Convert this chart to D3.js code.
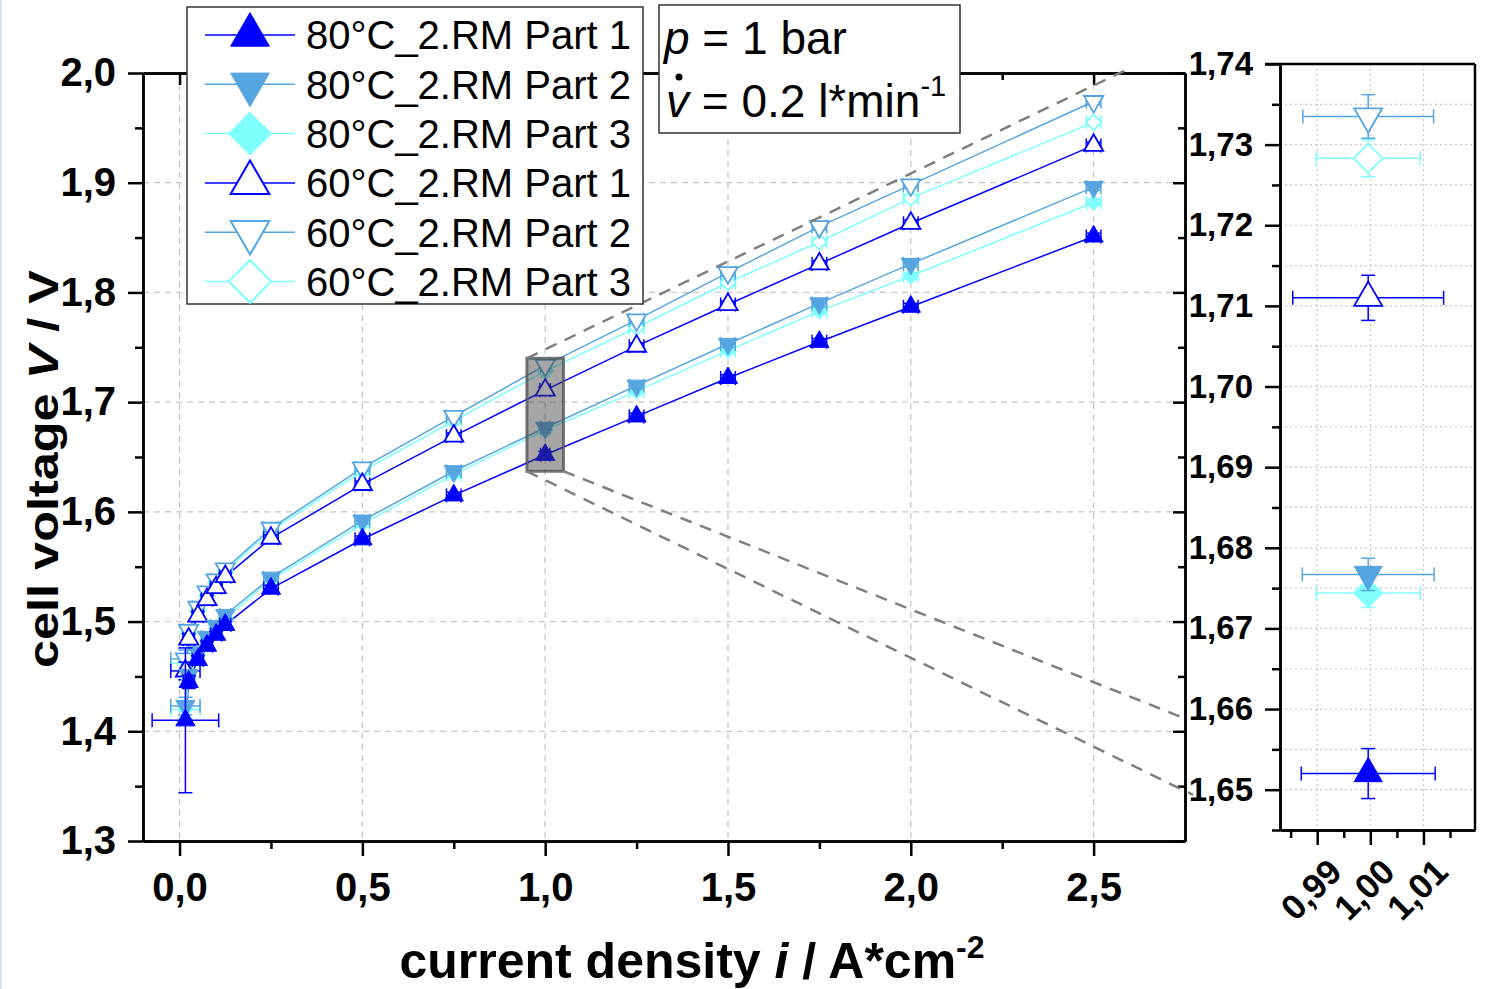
<!DOCTYPE html>
<html>
<head>
<meta charset="utf-8">
<script src="https://cdn.jsdelivr.net/npm/d3@7"></script>
<style>
body { margin: 0; background: #fff; }
svg text { font-family: "Liberation Sans", Arial, sans-serif; }
</style>
</head>
<body>
<svg id="chart" width="1489" height="989"></svg>
<script>
// current density in A*cm-2
const currentDensity = [0.016, 0.025, 0.05, 0.075, 0.1, 0.125, 0.25, 0.5, 0.75, 1.0, 1.25, 1.5, 1.75, 2.0, 2.5];

// cell voltage in V
const v80p1 = [1.410, 1.445, 1.465, 1.478, 1.488, 1.497, 1.530, 1.575, 1.615, 1.652, 1.687, 1.722, 1.755, 1.787, 1.851];
const v80p2 = [1.423, 1.451, 1.472, 1.486, 1.496, 1.506, 1.540, 1.592, 1.637, 1.6767, 1.715, 1.753, 1.790, 1.826, 1.896];
const v80p3 = [1.420, 1.448, 1.470, 1.483, 1.494, 1.503, 1.538, 1.589, 1.634, 1.6744, 1.710, 1.747, 1.783, 1.815, 1.882];
const v60p1 = [1.455, 1.484, 1.505, 1.520, 1.531, 1.541, 1.576, 1.625, 1.669, 1.711, 1.751, 1.789, 1.826, 1.863, 1.934];
const v60p2 = [1.466, 1.492, 1.513, 1.527, 1.538, 1.548, 1.585, 1.640, 1.687, 1.7335, 1.775, 1.818, 1.860, 1.898, 1.974];
const v60p3 = [1.462, 1.490, 1.510, 1.524, 1.536, 1.546, 1.583, 1.637, 1.683, 1.7283, 1.768, 1.809, 1.846, 1.886, 1.955];

// error bars (voltage)
const yErr80p1 = [0.066, 0.006, 0.004, 0.004, 0.003, 0.003, 0.003, 0.003, 0.003, 0.0031, 0.003, 0.003, 0.003, 0.003, 0.003];
const yErr80p2 = [0.008, 0.005, 0.004, 0.004, 0.003, 0.003, 0.003, 0.003, 0.003, 0.0020, 0.003, 0.003, 0.003, 0.003, 0.003];
const yErr80p3 = [0.008, 0.005, 0.004, 0.004, 0.003, 0.003, 0.003, 0.003, 0.003, 0.0018, 0.003, 0.003, 0.003, 0.003, 0.003];
const yErr60p1 = [0.008, 0.005, 0.004, 0.004, 0.003, 0.003, 0.003, 0.003, 0.003, 0.0028, 0.003, 0.003, 0.003, 0.003, 0.003];
const yErr60p2 = [0.008, 0.005, 0.004, 0.004, 0.003, 0.003, 0.003, 0.003, 0.003, 0.0027, 0.003, 0.003, 0.003, 0.003, 0.003];
const yErr60p3 = [0.008, 0.005, 0.004, 0.004, 0.003, 0.003, 0.003, 0.003, 0.003, 0.0023, 0.003, 0.003, 0.003, 0.003, 0.003];

// error bars (current density)
const xErr80p1 = [0.091, 0.015, 0.015, 0.015, 0.015, 0.015, 0.02, 0.02, 0.02, 0.0126, 0.02, 0.02, 0.02, 0.02, 0.02];
const xErr80p2 = [0.040, 0.015, 0.015, 0.015, 0.015, 0.015, 0.02, 0.02, 0.02, 0.0124, 0.02, 0.02, 0.02, 0.02, 0.02];
const xErr80p3 = [0.040, 0.015, 0.015, 0.015, 0.015, 0.015, 0.02, 0.02, 0.02, 0.0098, 0.02, 0.02, 0.02, 0.02, 0.02];
const xErr60p1 = [0.040, 0.015, 0.015, 0.015, 0.015, 0.015, 0.02, 0.02, 0.02, 0.0142, 0.02, 0.02, 0.02, 0.02, 0.02];
const xErr60p2 = [0.040, 0.015, 0.015, 0.015, 0.015, 0.015, 0.02, 0.02, 0.02, 0.0123, 0.02, 0.02, 0.02, 0.02, 0.02];
const xErr60p3 = [0.040, 0.015, 0.015, 0.015, 0.015, 0.015, 0.02, 0.02, 0.02, 0.0098, 0.02, 0.02, 0.02, 0.02, 0.02];

const seriesNames = ['80°C_2.RM Part 1', '80°C_2.RM Part 2', '80°C_2.RM Part 3', '60°C_2.RM Part 1', '60°C_2.RM Part 2', '60°C_2.RM Part 3'];
const seriesColors = ['#0000ff', '#56a5e0', '#80ffff', '#0000ff', '#56a5e0', '#80ffff'];
const seriesShapes = ['up', 'down', 'diamond', 'up', 'down', 'diamond'];
const seriesFilled = [true, true, true, false, false, false];

// inset (zoom at 1 A*cm-2)
const insetX = [0.9996, 0.9996, 0.9996, 0.9996, 0.9996, 0.9996];
const insetV = [1.6520, 1.6767, 1.6744, 1.7110, 1.7335, 1.7283];
const insetYErr = [0.0031, 0.0020, 0.0018, 0.0028, 0.0027, 0.0023];
const insetXErr = [0.0126, 0.0124, 0.0098, 0.0142, 0.0123, 0.0098];

// zoom box and connector lines (data coords of the main plot)
const zoomBox = [0.95, 1.05, 1.637, 1.74];
const connectors = [
    [0.95, 1.74, 2.59, 2.003],
    [0.95, 1.637, 2.772, 1.342],
    [1.05, 1.637, 2.74, 1.413]
];

const yTicks = [1.3, 1.4, 1.5, 1.6, 1.7, 1.8, 1.9, 2.0];
const yMinor = [1.35, 1.45, 1.55, 1.65, 1.75, 1.85, 1.95];
const xTicks = [0, 0.5, 1.0, 1.5, 2.0, 2.5];
const xMinor = [0.25, 0.75, 1.25, 1.75, 2.25];
const insetYTicks = [1.65, 1.66, 1.67, 1.68, 1.69, 1.70, 1.71, 1.72, 1.73, 1.74];
const insetYMinor = [1.645, 1.655, 1.665, 1.675, 1.685, 1.695, 1.705, 1.715, 1.725, 1.735];
const insetXTicks = [0.99, 1.00, 1.01];
const insetXMinor = [0.985, 0.995, 1.005, 1.015];

const series = [
    { v: v80p1, ye: yErr80p1, xe: xErr80p1 },
    { v: v80p2, ye: yErr80p2, xe: xErr80p2 },
    { v: v80p3, ye: yErr80p3, xe: xErr80p3 },
    { v: v60p1, ye: yErr60p1, xe: xErr60p1 },
    { v: v60p2, ye: yErr60p2, xe: xErr60p2 },
    { v: v60p3, ye: yErr60p3, xe: xErr60p3 }
].map((s, i) => ({
    name: seriesNames[i], color: seriesColors[i], shape: seriesShapes[i], filled: seriesFilled[i],
    points: currentDensity.map((c, j) => ({ x: c, y: s.v[j], xe: s.xe[j], ye: s.ye[j] }))
}));

const deFormat = d3.formatLocale({ decimal: ",", thousands: ".", grouping: [3], currency: ["", ""] });

const svg = d3.select('#chart');
svg.append('rect').attr('x', 0).attr('y', 0).attr('width', 2).attr('height', 989).attr('fill', '#cfe3f5');

const x = d3.scaleLinear().domain([-0.1, 2.75]).range([143, 1185]);
const y = d3.scaleLinear().domain([1.3, 2.0]).range([841, 73]);
const xi = d3.scaleLinear().domain([0.983, 1.0197]).range([1280, 1475]);
const yi = d3.scaleLinear().domain([1.645, 1.74]).range([830, 64]);

const symbolPath = (shape, size) => {
    if (shape === 'diamond') return d3.symbol(d3.symbolSquare, size)();
    return d3.symbol(d3.symbolTriangle, size)();
};
const symbolRotate = shape => shape === 'down' ? 180 : (shape === 'diamond' ? 45 : 0);

// grid main
const grid = svg.append('g');
grid.selectAll('.vg').data(xTicks).enter().append('line')
    .attr('x1', d => x(d)).attr('x2', d => x(d)).attr('y1', y(2.0)).attr('y2', y(1.3))
    .attr('stroke', '#c8c8c8').attr('stroke-width', 1.3).attr('stroke-dasharray', '6,5');
grid.selectAll('.hg').data(yTicks.slice(1, -1)).enter().append('line')
    .attr('y1', d => y(d)).attr('y2', d => y(d)).attr('x1', x(-0.1)).attr('x2', x(2.75))
    .attr('stroke', '#c8c8c8').attr('stroke-width', 1.3).attr('stroke-dasharray', '6,5');

// grid inset
const igrid = svg.append('g');
igrid.selectAll('.vg').data(insetXTicks).enter().append('line')
    .attr('x1', d => xi(d)).attr('x2', d => xi(d)).attr('y1', yi(1.74)).attr('y2', yi(1.645))
    .attr('stroke', '#c8c8c8').attr('stroke-width', 1.2).attr('stroke-dasharray', '2,3');
igrid.selectAll('.hg').data(insetYTicks.concat(insetYMinor).filter(d => d > 1.646 && d < 1.739)).enter().append('line')
    .attr('y1', d => yi(d)).attr('y2', d => yi(d)).attr('x1', xi(0.983)).attr('x2', xi(1.0197))
    .attr('stroke', '#c8c8c8').attr('stroke-width', 1.2).attr('stroke-dasharray', '2,3');

// series lines
const line = d3.line().x(d => x(d.x)).y(d => y(d.y));
const plot = svg.append('g');
series.forEach(s => {
    plot.append('path').datum(s.points).attr('d', line)
        .attr('fill', 'none').attr('stroke', s.color).attr('stroke-width', 1.5);
});

const drawErrors = (g, pts, sx, sy, color, cap) => {
    const e = g.append('g').attr('stroke', color).attr('stroke-width', 1.5).attr('fill', 'none');
    pts.forEach(p => {
        const cx = sx(p.x), cy = sy(p.y);
        const x0 = sx(p.x - p.xe), x1 = sx(p.x + p.xe);
        const y0 = sy(p.y - p.ye), y1 = sy(p.y + p.ye);
        e.append('line').attr('x1', x0).attr('x2', x1).attr('y1', cy).attr('y2', cy);
        e.append('line').attr('x1', x0).attr('x2', x0).attr('y1', cy - cap).attr('y2', cy + cap);
        e.append('line').attr('x1', x1).attr('x2', x1).attr('y1', cy - cap).attr('y2', cy + cap);
        e.append('line').attr('x1', cx).attr('x2', cx).attr('y1', y0).attr('y2', y1);
        e.append('line').attr('x1', cx - cap).attr('x2', cx + cap).attr('y1', y0).attr('y2', y0);
        e.append('line').attr('x1', cx - cap).attr('x2', cx + cap).attr('y1', y1).attr('y2', y1);
    });
};

const drawMarkers = (g, pts, sx, sy, s, triSize, diaSize) => {
    const size = s.shape === 'diamond' ? diaSize : triSize;
    g.selectAll(null).data(pts).enter().append('path')
        .attr('d', symbolPath(s.shape, size))
        .attr('transform', d => `translate(${sx(d.x)},${sy(d.y)}) rotate(${symbolRotate(s.shape)})`)
        .attr('fill', s.filled ? s.color : '#fff')
        .attr('stroke', s.color).attr('stroke-width', s.filled ? 1 : 1.8);
};

series.slice().reverse().forEach(s => {
    drawErrors(plot, s.points, x, y, s.color, 7);
    drawMarkers(plot, s.points, x, y, s, 160, 120);
});

// main axes
const axisStyle = g => {
    g.selectAll('path,line').attr('stroke', '#000').attr('stroke-width', 2.5);
    g.selectAll('text').attr('font-size', 40).attr('font-weight', 'bold').attr('fill', '#000');
};
svg.append('g').attr('transform', 'translate(143,0)')
    .call(d3.axisLeft(y).tickValues(yMinor).tickSize(8).tickSizeOuter(0).tickFormat(''))
    .call(axisStyle);
svg.append('g').attr('transform', 'translate(143,0)')
    .call(d3.axisLeft(y).tickValues(yTicks).tickSize(15).tickSizeOuter(0).tickPadding(12).tickFormat(deFormat.format('.1f')))
    .call(axisStyle);
svg.append('g').attr('transform', 'translate(0,841)')
    .call(d3.axisBottom(x).tickValues(xMinor).tickSize(8).tickSizeOuter(0).tickFormat(''))
    .call(axisStyle);
svg.append('g').attr('transform', 'translate(0,841)')
    .call(d3.axisBottom(x).tickValues(xTicks).tickSize(15).tickSizeOuter(0).tickPadding(17).tickFormat(deFormat.format('.1f')))
    .call(axisStyle);
svg.append('g').attr('transform', 'translate(0,73)')
    .call(d3.axisTop(x).tickValues(xTicks).tickSize(-12).tickSizeOuter(0).tickFormat(''))
    .call(axisStyle);
svg.append('g').attr('transform', 'translate(0,73)')
    .call(d3.axisTop(x).tickValues(xMinor).tickSize(-7).tickSizeOuter(0).tickFormat(''))
    .call(axisStyle);
svg.append('g').attr('transform', 'translate(1185,0)')
    .call(d3.axisRight(y).tickValues(yTicks).tickSize(-12).tickSizeOuter(0).tickFormat(''))
    .call(axisStyle);
svg.append('g').attr('transform', 'translate(1185,0)')
    .call(d3.axisRight(y).tickValues(yMinor).tickSize(-7).tickSizeOuter(0).tickFormat(''))
    .call(axisStyle);

// zoom box
svg.append('rect')
    .attr('x', x(zoomBox[0])).attr('y', y(zoomBox[3]))
    .attr('width', x(zoomBox[1]) - x(zoomBox[0])).attr('height', y(zoomBox[2]) - y(zoomBox[3]))
    .attr('fill', '#3a3a3a').attr('fill-opacity', 0.45)
    .attr('stroke', '#555').attr('stroke-opacity', 0.8).attr('stroke-width', 3);

svg.append('g').selectAll('line').data(connectors).enter().append('line')
    .attr('x1', d => x(d[0])).attr('y1', d => y(d[1])).attr('x2', d => x(d[2])).attr('y2', d => y(d[3]))
    .attr('stroke', '#808080').attr('stroke-width', 2.5).attr('stroke-dasharray', '12,9');

// inset
const inset = svg.append('g');
series.slice().reverse().forEach((s, r) => {
    const i = series.length - 1 - r;
    const pts = [{ x: insetX[i], y: insetV[i], xe: insetXErr[i], ye: insetYErr[i] }];
    drawErrors(inset, pts, xi, yi, s.color, 7);
    drawMarkers(inset, pts, xi, yi, s, 340, 420);
});

svg.append('line').attr('x1', 1265).attr('x2', 1475).attr('y1', 64).attr('y2', 64).attr('stroke', '#000').attr('stroke-width', 2.5);
svg.append('line').attr('x1', 1475).attr('x2', 1475).attr('y1', 64).attr('y2', 830).attr('stroke', '#000').attr('stroke-width', 2.5);
svg.append('g').attr('transform', 'translate(1280,0)')
    .call(d3.axisLeft(yi).tickValues(insetYMinor).tickSize(8).tickSizeOuter(0).tickFormat(''))
    .call(axisStyle);
svg.append('g').attr('transform', 'translate(1280,0)')
    .call(d3.axisLeft(yi).tickValues(insetYTicks).tickSize(15).tickSizeOuter(0).tickPadding(12).tickFormat(deFormat.format('.2f')))
    .call(axisStyle)
    .call(g => g.selectAll('text').attr('font-size', 33));
svg.append('g').attr('transform', 'translate(0,830)')
    .call(d3.axisBottom(xi).tickValues(insetXMinor).tickSize(8).tickSizeOuter(0).tickFormat(''))
    .call(axisStyle);
const ixAxis = svg.append('g').attr('transform', 'translate(0,830)')
    .call(d3.axisBottom(xi).tickValues(insetXTicks).tickSize(15).tickSizeOuter(0).tickFormat(deFormat.format('.2f')))
    .call(axisStyle);
ixAxis.selectAll('text').attr('font-size', 35)
    .attr('text-anchor', 'end').attr('dy', null).attr('y', null)
    .attr('transform', 'translate(26,44) rotate(-45)');

// axis titles
svg.append('text')
    .attr('transform', 'translate(58,469) rotate(-90)')
    .attr('text-anchor', 'middle').attr('font-size', 42).attr('font-weight', 'bold')
    .attr('textLength', 398).attr('lengthAdjust', 'spacingAndGlyphs')
    .call(t => {
        t.append('tspan').text('cell voltage ');
        t.append('tspan').attr('font-style', 'italic').text('V');
        t.append('tspan').text(' / V');
    });
svg.append('text')
    .attr('x', 692).attr('y', 978)
    .attr('text-anchor', 'middle').attr('font-size', 50).attr('font-weight', 'bold')
    .call(t => {
        t.append('tspan').text('current density ');
        t.append('tspan').attr('font-style', 'italic').text('i');
        t.append('tspan').text(' / A*cm');
        t.append('tspan').attr('font-size', 32).attr('dy', -20).text('-2');
    });

// legend
const legend = svg.append('g');
legend.append('rect').attr('x', 187).attr('y', 7).attr('width', 456).attr('height', 297)
    .attr('fill', '#fff').attr('stroke', '#333').attr('stroke-width', 1.5);
series.forEach((s, i) => {
    const ly = 35 + i * 49.3;
    const row = legend.append('g');
    row.append('line').attr('x1', 205).attr('x2', 295).attr('y1', ly).attr('y2', ly)
        .attr('stroke', s.color).attr('stroke-width', 1.5);
    row.append('path').attr('d', symbolPath(s.shape, s.shape === 'diamond' ? 900 : 650))
        .attr('transform', `translate(250,${ly}) rotate(${symbolRotate(s.shape)})`)
        .attr('fill', s.filled ? s.color : '#fff').attr('stroke', s.color).attr('stroke-width', s.filled ? 1 : 2);
    row.append('text').attr('x', 306).attr('y', ly).attr('dy', '0.36em')
        .attr('font-size', 40).text(s.name);
});

// condition box
const cond = svg.append('g');
cond.append('rect').attr('x', 659).attr('y', 5).attr('width', 301).attr('height', 128)
    .attr('fill', '#fff').attr('stroke', '#333').attr('stroke-width', 1.5);
cond.append('text').attr('x', 664).attr('y', 54).attr('font-size', 46)
    .call(t => {
        t.append('tspan').attr('font-style', 'italic').text('p');
        t.append('tspan').text(' = 1 bar');
    });
cond.append('text').attr('x', 666).attr('y', 117).attr('font-size', 46)
    .call(t => {
        t.append('tspan').attr('font-style', 'italic').text('v');
        t.append('tspan').text(' = 0.2 l*min');
        t.append('tspan').attr('font-size', 29).attr('dy', -21).text('-1');
    });
cond.append('circle').attr('cx', 679).attr('cy', 77).attr('r', 3.5).attr('fill', '#000');
</script>
</body>
</html>
